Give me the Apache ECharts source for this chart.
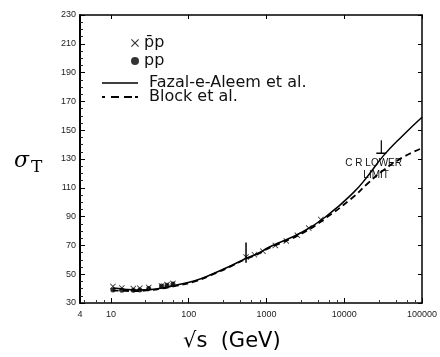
<!DOCTYPE html>
<html lang="en" style="height: 100%">
<head>
  <meta charset="utf-8">
</head>
<body style="height: 100%; margin: 0; background: #fff">
  <div id="container" style="width: 440px; height: 357px"></div>

  <script type="text/javascript" src="https://cdn.jsdelivr.net/npm/echarts@6/dist/echarts.min.js"></script>

  <script type="text/javascript">
    // curves: sqrt(s) in GeV, total cross section
    var sqrtS = [10.6, 15, 20, 30, 50, 70, 120, 188, 365, 531, 794, 1090, 2900, 6140, 13300, 20000, 31600, 56000, 100000];
    var fazal = [40.4, 39.6, 39.1, 39.2, 40.8, 42.5, 45.5, 49.4, 56.4, 60.6, 64.7, 68.9, 79.3, 91, 107, 118, 132, 146, 159];
    var block = [38.8, 38.4, 38.3, 38.8, 40.4, 42, 45, 49, 56, 60.3, 64.3, 68.3, 78.5, 90, 104, 113, 122, 131, 137.5];

    // data points
    var pbarpX = [10.6, 13.8, 19.4, 23.5, 30.6, 44.7, 52.6, 62.7, 546, 700, 900, 1300, 1800, 2500, 3500, 5000];
    var pbarpY = [41.5, 40.5, 40.0, 40.3, 40.8, 41.8, 42.8, 43.6, 62, 63.5, 66, 70, 73, 77, 82, 88];
    var ppX = [10.6, 13.8, 19.4, 23.5, 30.6, 44.7, 52.6, 62.7];
    var ppY = [39.0, 38.9, 38.9, 39.0, 40.1, 41.8, 42.4, 43.2];

    // error bar at 546 GeV: [x, low, high]
    var errBars = [[546, 58, 72]];
    // cosmic ray lower limit: [x, limit, top of marker]
    var crLimit = [[30000, 134, 143]];

    var dom = document.getElementById('container');
    var myChart = echarts.init(dom, null, { renderer: 'canvas' });

    var labelFont = { fontSize: 9, color: '#222', fontFamily: 'Liberation Sans' };
    var legendFont = { fontSize: 16, color: '#111', fontFamily: 'DejaVu Sans' };
    var crossPath = 'path://M0,1L1,0L5,4L9,0L10,1L6,5L10,9L9,10L5,6L1,10L0,9L4,5Z';

    var option = {
      backgroundColor: '#fff',
      animation: false,
      grid: { left: 80, right: 10, top: 15, bottom: 54 },
      legend: [
        {
          orient: 'vertical',
          left: 126,
          top: 30,
          itemWidth: 8,
          itemHeight: 8,
          itemGap: 2,
          textStyle: legendFont,
          data: [
            { name: 'p̄p', icon: crossPath },
            { name: 'pp', icon: 'circle' }
          ]
        },
        {
          orient: 'vertical',
          left: 97,
          top: 70,
          itemWidth: 36,
          itemHeight: 12,
          itemGap: -2,
          textStyle: Object.assign({ padding: [0, 0, 0, 6] }, legendFont),
          data: [
            { name: 'Fazal-e-Aleem et al.', icon: 'path://M0,0H36V1.5H0Z' },
            { name: 'Block et al.', icon: 'path://M0,0H3V2H0ZM9,0H17V2H9ZM22,0H30V2H22ZM33,0H36V2H33Z' }
          ]
        }
      ],
      xAxis: [
        {
          type: 'log',
          min: 4,
          max: 100000,
          logBase: 10,
          axisLine: { lineStyle: { color: '#000', width: 1.5 } },
          axisTick: { inside: true, length: 5, lineStyle: { color: '#000' } },
          minorTick: { show: true, splitNumber: 5, length: 3, lineStyle: { color: '#333' } },
          axisLabel: Object.assign({
            margin: 7,
            formatter: function (v) { return String(Math.round(v)); }
          }, labelFont),
          splitLine: { show: false }
        },
        {
          type: 'log',
          position: 'top',
          min: 4,
          max: 100000,
          axisLine: { lineStyle: { color: '#000', width: 1.5 } },
          axisTick: { inside: true, length: 4, lineStyle: { color: '#000' } },
          axisLabel: { show: false },
          splitLine: { show: false }
        }
      ],
      yAxis: [
        {
          type: 'value',
          min: 30,
          max: 230,
          interval: 20,
          axisLine: { show: true, lineStyle: { color: '#000', width: 2 } },
          axisTick: { inside: true, length: 5, lineStyle: { color: '#000' } },
          minorTick: { show: true, splitNumber: 4, length: 3, lineStyle: { color: '#222' } },
          axisLabel: Object.assign({ margin: 4 }, labelFont),
          splitLine: { show: false }
        },
        {
          type: 'value',
          position: 'right',
          min: 30,
          max: 230,
          interval: 20,
          axisLine: { show: true, lineStyle: { color: '#000', width: 1.5 } },
          axisTick: { inside: true, length: 4, lineStyle: { color: '#000' } },
          axisLabel: { show: false },
          splitLine: { show: false }
        }
      ],
      graphic: [
        {
          type: 'text',
          left: 14,
          top: 150,
          style: {
            text: '{s|σ}{t|T}',
            rich: {
              s: { fontSize: 22, fontFamily: 'DejaVu Serif', fontStyle: 'italic', fill: '#000' },
              t: { fontSize: 17, fontFamily: 'DejaVu Serif', fill: '#000', padding: [14, 0, 0, 2] }
            }
          }
        },
        {
          type: 'text',
          left: 183,
          top: 331,
          style: {
            text: '√s  (GeV)',
            fontSize: 21,
            fontFamily: 'DejaVu Sans',
            fill: '#000'
          }
        }
      ],
      series: [
        {
          name: 'p̄p',
          type: 'scatter',
          symbol: crossPath,
          symbolSize: 6,
          itemStyle: { color: '#000' },
          data: pbarpX.map(function (x, i) { return [x, pbarpY[i]]; })
        },
        {
          name: 'pp',
          type: 'scatter',
          symbol: 'circle',
          symbolSize: 5,
          itemStyle: { color: '#000' },
          data: ppX.map(function (x, i) { return [x, ppY[i]]; })
        },
        {
          name: 'Fazal-e-Aleem et al.',
          type: 'line',
          smooth: true,
          symbol: 'none',
          lineStyle: { color: '#000', width: 1.5 },
          itemStyle: { color: '#000' },
          data: sqrtS.map(function (x, i) { return [x, fazal[i]]; })
        },
        {
          name: 'Block et al.',
          type: 'line',
          smooth: true,
          symbol: 'none',
          lineStyle: { color: '#000', width: 1.8, type: [6, 4] },
          itemStyle: { color: '#000' },
          data: sqrtS.map(function (x, i) { return [x, block[i]]; })
        },
        {
          type: 'custom',
          data: errBars,
          renderItem: function (params, api) {
            var lo = api.coord([api.value(0), api.value(1)]);
            var hi = api.coord([api.value(0), api.value(2)]);
            return {
              type: 'line',
              shape: { x1: lo[0], y1: lo[1], x2: hi[0], y2: hi[1] },
              style: { stroke: '#000', lineWidth: 1.5 }
            };
          }
        },
        {
          type: 'custom',
          data: crLimit,
          renderItem: function (params, api) {
            var base = api.coord([api.value(0), api.value(1)]);
            var top = api.coord([api.value(0), api.value(2)]);
            var txt = { fontSize: 10, fontFamily: 'Liberation Sans', fill: '#111' };
            return {
              type: 'group',
              children: [
                {
                  type: 'line',
                  shape: { x1: base[0] - 5, y1: base[1], x2: base[0] + 5, y2: base[1] },
                  style: { stroke: '#000', lineWidth: 1.5 }
                },
                {
                  type: 'line',
                  shape: { x1: base[0], y1: base[1], x2: top[0], y2: top[1] },
                  style: { stroke: '#000', lineWidth: 1.2 }
                },
                {
                  type: 'text',
                  x: base[0] - 36,
                  y: base[1] + 5,
                  style: Object.assign({ text: 'C R LOWER' }, txt)
                },
                {
                  type: 'text',
                  x: base[0] - 18,
                  y: base[1] + 17,
                  style: Object.assign({ text: 'LIMIT' }, txt)
                }
              ]
            };
          }
        }
      ]
    };

    myChart.setOption(option);
    window.addEventListener('resize', myChart.resize);
  </script>
</body>
</html>
